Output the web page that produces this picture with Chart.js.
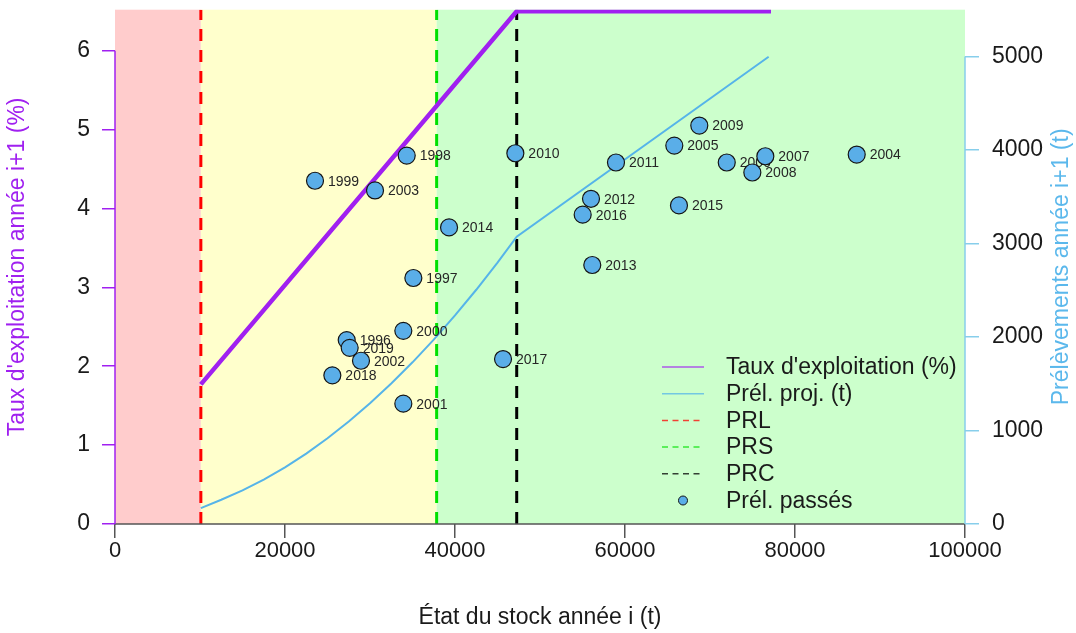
<!DOCTYPE html>
<html>
<head>
<meta charset="utf-8">
<script src="https://cdn.jsdelivr.net/npm/chart.js@4.4.1/dist/chart.umd.min.js"></script>
<style>
  html, body { margin: 0; padding: 0; background: #ffffff; }
  canvas { display: block; }
</style>
</head>
<body>
<canvas id="c" width="1076" height="633"></canvas>
<script>
// ---- Axis ticks ----
const xTicks = [0, 20000, 40000, 60000, 80000, 100000];
const yLeftTicks = [0, 1, 2, 3, 4, 5, 6];
const yRightTicks = [0, 1000, 2000, 3000, 4000, 5000];

// ---- Reference points (stock, t) ----
const refLabels = ['PRL', 'PRS', 'PRC'];
const refValues = [10100, 37840, 47260];

// ---- Exploitation rate rule (% of stock) ----
const tauxStock = [10100, 47260, 77180];
const tauxValeurs = [1.77, 6.5, 6.5];

// ---- Projected harvest (t) ----
const projStock = [10100, 12500, 15000, 17500, 20000, 22500, 25000, 27500, 30000,
                   32500, 35000, 37500, 40000, 42500, 45000, 47260, 76900];
const projPrel  = [170, 259, 359, 475, 606, 753, 917, 1096, 1291,
                   1502, 1729, 1972, 2230, 2505, 2796, 3072, 4997];

// ---- Past harvests: stock year i vs harvest year i+1 ----
const years = [1996, 1997, 1998, 1999, 2000, 2001, 2002, 2003, 2004, 2005, 2006, 2007,
               2008, 2009, 2010, 2011, 2012, 2013, 2014, 2015, 2016, 2017, 2018, 2019];
const stockPasse = [27260, 35100, 34320, 23530, 33920, 33920, 28940, 30590, 87260, 65800, 71970, 76510,
                    74980, 68740, 47100, 58940, 56000, 56150, 39300, 66350, 55020, 45650, 25570, 27610];
const prelPasse  = [1967, 2631, 3940, 3671, 2066, 1287, 1746, 3567, 3951, 4047, 3866, 3933,
                    3759, 4261, 3965, 3866, 3478, 2770, 3172, 3407, 3308, 1764, 1590, 1884];

// ---- Styles ----
const FONT = "'Liberation Sans', Arial, Helvetica, sans-serif";
const TEXT = '#1a1a1a';
const PURPLE = '#A020F0';
const SKY = '#56B4E9';
const AXIS_SKY = '#87CEEB';
const refColors = ['#FF0000', '#00E000', '#000000'];
const zoneColors = ['#FFCCCC', '#FFFFCC', '#CCFFCC'];

const refDatasets = refLabels.map((lab, i) => ({
  label: lab,
  type: 'line',
  xAxisID: 'x',
  yAxisID: 'yL',
  data: [{ x: refValues[i], y: 0 }, { x: refValues[i], y: 6.52 }],
  borderColor: refColors[i],
  borderWidth: 3,
  borderDash: [12, 9],
  pointRadius: 0,
  order: 5 + i
}));

const datasets = [
  {
    label: 'Prél. passés',
    type: 'scatter',
    xAxisID: 'x',
    yAxisID: 'yR',
    data: stockPasse.map((s, i) => ({ x: s, y: prelPasse[i] })),
    backgroundColor: '#5AAEE8',
    borderColor: '#151515',
    borderWidth: 1.2,
    pointRadius: 8.5,
    order: 0
  },
  {
    label: 'Prél. proj. (t)',
    type: 'line',
    xAxisID: 'x',
    yAxisID: 'yR',
    data: projStock.map((s, i) => ({ x: s, y: projPrel[i] })),
    borderColor: SKY,
    borderWidth: 2,
    pointRadius: 0,
    tension: 0,
    order: 1
  },
  {
    label: "Taux d'exploitation (%)",
    type: 'line',
    xAxisID: 'x',
    yAxisID: 'yL',
    data: tauxStock.map((s, i) => ({ x: s, y: tauxValeurs[i] })),
    borderColor: PURPLE,
    borderWidth: 4.5,
    pointRadius: 0,
    tension: 0,
    order: 2
  },
  ...refDatasets
];

const legendOrder = ["Taux d'exploitation (%)", 'Prél. proj. (t)', 'PRL', 'PRS', 'PRC', 'Prél. passés'];

// Colored management zones behind the data
const zonesPlugin = {
  id: 'zones',
  beforeDatasetsDraw(chart) {
    const { ctx, chartArea: { top, bottom }, scales: { x } } = chart;
    const bounds = [x.min, refValues[0], refValues[1], x.max];
    ctx.save();
    for (let i = 0; i < 3; i++) {
      const x0 = x.getPixelForValue(bounds[i]);
      const x1 = x.getPixelForValue(bounds[i + 1]);
      ctx.fillStyle = zoneColors[i];
      ctx.fillRect(x0, top, x1 - x0, bottom - top);
    }
    ctx.restore();
  }
};

// Year labels next to the past-harvest points
const yearLabelsPlugin = {
  id: 'yearLabels',
  beforeDatasetDraw(chart, args) {
    if (chart.data.datasets[args.index].label !== 'Prél. passés') return;
    const { ctx } = chart;
    ctx.save();
    ctx.font = '14px ' + FONT;
    ctx.fillStyle = '#262626';
    ctx.textAlign = 'left';
    ctx.textBaseline = 'middle';
    args.meta.data.forEach((pt, i) => {
      ctx.fillText(String(years[i]), pt.x + 13, pt.y + 1);
    });
    ctx.restore();
  }
};

// Axis lines spanning first to last tick, plus legend and right title
const decorPlugin = {
  id: 'decor',
  afterDraw(chart) {
    const { ctx, chartArea: ca, scales: { x, yL, yR } } = chart;
    ctx.save();
    ctx.lineCap = 'butt';
    // bottom axis
    ctx.strokeStyle = '#555555';
    ctx.lineWidth = 1.5;
    ctx.beginPath();
    ctx.moveTo(x.getPixelForValue(xTicks[0]), ca.bottom);
    ctx.lineTo(x.getPixelForValue(xTicks[xTicks.length - 1]), ca.bottom);
    ctx.stroke();
    // left axis
    ctx.strokeStyle = PURPLE;
    ctx.lineWidth = 1.5;
    ctx.beginPath();
    ctx.moveTo(ca.left, yL.getPixelForValue(yLeftTicks[0]));
    ctx.lineTo(ca.left, yL.getPixelForValue(yLeftTicks[yLeftTicks.length - 1]));
    ctx.stroke();
    // right axis
    ctx.strokeStyle = AXIS_SKY;
    ctx.beginPath();
    ctx.moveTo(ca.right, yR.getPixelForValue(yRightTicks[0]));
    ctx.lineTo(ca.right, yR.getPixelForValue(yRightTicks[yRightTicks.length - 1]));
    ctx.stroke();

    // right axis title, reading upward
    ctx.save();
    ctx.translate(1062, (ca.top + ca.bottom) / 2);
    ctx.rotate(-Math.PI / 2);
    ctx.font = '23px ' + FONT;
    ctx.fillStyle = '#5BB8EC';
    ctx.textAlign = 'center';
    ctx.textBaseline = 'middle';
    ctx.fillText('Prélèvements année i+1 (t)', 0, 0);
    ctx.restore();

    // legend
    const lx0 = 662, lx1 = 704, tx = 726, y0 = 367, dy = 26.7;
    ctx.font = '23px ' + FONT;
    ctx.textAlign = 'left';
    ctx.textBaseline = 'middle';
    legendOrder.forEach((lab, i) => {
      const ds = chart.data.datasets.find(d => d.label === lab);
      const y = y0 + i * dy;
      if (ds.type === 'scatter') {
        ctx.beginPath();
        ctx.arc((lx0 + lx1) / 2, y, 4.5, 0, Math.PI * 2);
        ctx.fillStyle = ds.backgroundColor;
        ctx.fill();
        ctx.lineWidth = 1;
        ctx.strokeStyle = ds.borderColor;
        ctx.stroke();
      } else {
        ctx.beginPath();
        ctx.setLineDash(ds.borderDash ? [6, 4.5] : []);
        ctx.lineWidth = 1.5;
        ctx.strokeStyle = ds.borderColor;
        ctx.globalAlpha = 0.75;
        ctx.moveTo(lx0, y);
        ctx.lineTo(lx1, y);
        ctx.stroke();
        ctx.globalAlpha = 1;
        ctx.setLineDash([]);
      }
      ctx.fillStyle = TEXT;
      ctx.fillText(lab, tx, y + 1);
    });
    ctx.restore();
  }
};

// Fixed axis box sizes; no extra room reserved for edge tick labels
const fixBox = (w, h) => s => {
  if (w !== null) s.width = w;
  if (h !== null) s.height = h;
  s.paddingTop = 0; s.paddingBottom = 0; s.paddingLeft = 0; s.paddingRight = 0;
};

new Chart(document.getElementById('c'), {
  type: 'scatter',
  data: { datasets },
  plugins: [zonesPlugin, yearLabelsPlugin, decorPlugin],
  options: {
    responsive: false,
    animation: false,
    events: [],
    layout: { padding: { top: 9, left: 0, right: 0, bottom: 0 } },
    plugins: {
      legend: { display: false },
      tooltip: { enabled: false }
    },
    scales: {
      x: {
        type: 'linear',
        position: 'bottom',
        min: 0,
        max: 100000,
        afterBuildTicks: s => { s.ticks = xTicks.map(v => ({ value: v })); },
        afterFit: fixBox(null, 109),
        ticks: {
          autoSkip: false,
          maxRotation: 0,
          padding: 0,
          color: TEXT,
          font: { family: FONT, size: 22 },
          callback: v => String(v)
        },
        grid: {
          display: true,
          drawOnChartArea: false,
          drawTicks: true,
          tickLength: 14,
          tickColor: '#555555',
          lineWidth: 1.5
        },
        border: { display: false },
        title: {
          display: true,
          text: 'État du stock année i (t)',
          color: TEXT,
          font: { family: FONT, size: 23 },
          padding: { top: 0, bottom: 2 }
        }
      },
      yL: {
        type: 'linear',
        position: 'left',
        min: 0,
        max: 6.52,
        afterBuildTicks: s => { s.ticks = yLeftTicks.map(v => ({ value: v })); },
        afterFit: fixBox(115, null),
        ticks: {
          padding: 12,
          color: TEXT,
          font: { family: FONT, size: 23 },
          callback: v => String(v)
        },
        grid: {
          display: true,
          drawOnChartArea: false,
          drawTicks: true,
          tickLength: 13,
          tickColor: PURPLE,
          lineWidth: 1.5
        },
        border: { display: false },
        title: {
          display: true,
          text: "Taux d'exploitation année i+1 (%)",
          color: PURPLE,
          font: { family: FONT, size: 23 },
          padding: { top: 4, bottom: 0 }
        }
      },
      yR: {
        type: 'linear',
        position: 'right',
        min: 0,
        max: 5500,
        afterBuildTicks: s => { s.ticks = yRightTicks.map(v => ({ value: v })); },
        afterFit: fixBox(111, null),
        ticks: {
          padding: 13,
          color: TEXT,
          font: { family: FONT, size: 23 },
          callback: v => String(v)
        },
        grid: {
          display: true,
          drawOnChartArea: false,
          drawTicks: true,
          tickLength: 14,
          tickColor: AXIS_SKY,
          lineWidth: 1.5
        },
        border: { display: false }
      }
    }
  }
});
</script>
</body>
</html>
